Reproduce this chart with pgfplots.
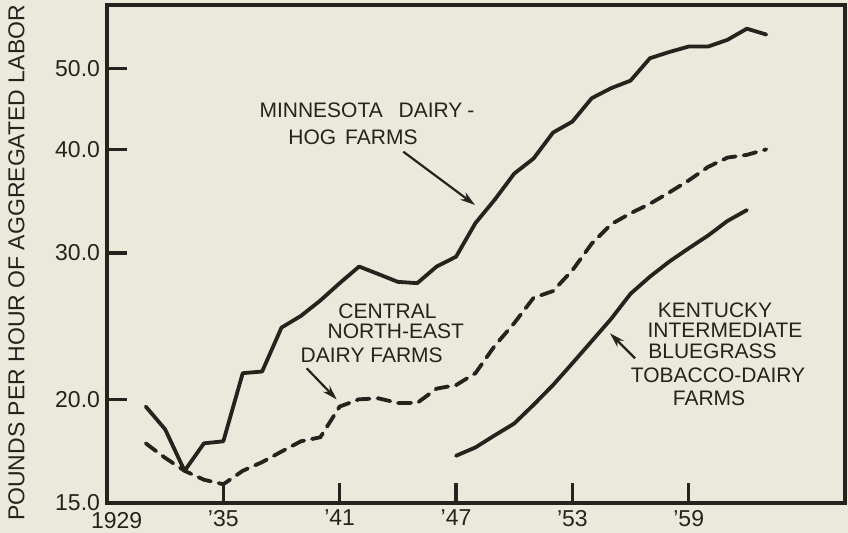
\documentclass[border=0pt]{standalone}
\usepackage{fontspec}
\setmainfont{Liberation Sans}
\usepackage{pgfplots}
\pgfplotsset{compat=1.18}
\usetikzlibrary{arrows.meta}
\definecolor{bgcol}{RGB}{233,234,219}
\definecolor{inkcol}{RGB}{38,34,30}

\begin{document}
\begin{tikzpicture}
\fill[bgcol] (-53.5bp,-15bp) rectangle (370.5bp,251.5bp);
\begin{axis}[
  scale only axis, width=369bp, height=249bp,
  at={(0,0)}, anchor=south west,
  xmin=1929, xmax=1967.06,
  ymode=log, ymin=15, ymax=59.7,
  axis line style={line width=1.6bp, inkcol},
  tick align=inside,
  major tick length=10bp,
  every tick/.style={line width=1.6bp, inkcol},
  xtick pos=bottom, ytick pos=left,
  minor tick num=0, yminorticks=false, xminorticks=false,
  xtick={1929,1935,1941,1947,1953,1959},
  xticklabels={,'35,'41,'47,'53,'59},
  ytick={15,20,30,40,50},
  yticklabels={15.0,20.0,30.0,40.0,50.0},
  ticklabel style={font=\fontsize{11.5bp}{13bp}\selectfont, text=inkcol},
  clip=false,
]
% Minnesota dairy-hog farms
\addplot[inkcol, line width=1.9bp, line join=round, line cap=round] coordinates {
(1931,19.6) (1932,18.4) (1933,16.4) (1934,17.7) (1935,17.8) (1936,21.5)
(1937,21.6) (1938,24.4) (1939,25.2) (1940,26.3) (1941,27.6) (1942,28.9)
(1943,28.3) (1944,27.7) (1945,27.6) (1946,28.9) (1947,29.7) (1948,32.6)
(1949,34.8) (1950,37.4) (1951,39.0) (1952,41.9) (1953,43.2) (1954,46.1)
(1955,47.4) (1956,48.4) (1957,51.5) (1958,52.4) (1959,53.2) (1960,53.2)
(1961,54.2) (1962,55.9) (1963,55.0)
};
% Central North-East dairy farms
\addplot[inkcol, line width=1.9bp, line cap=round, dash pattern=on 6.5bp off 4bp] coordinates {
(1931,17.7) (1932,17.0) (1933,16.4) (1934,16.0) (1935,15.8) (1936,16.4)
(1937,16.8) (1938,17.3) (1939,17.8) (1940,18.0) (1941,19.6) (1942,20.0)
(1943,20.05) (1944,19.8) (1945,19.8) (1946,20.6) (1947,20.8) (1948,21.5)
(1949,23.2) (1950,24.7) (1951,26.5) (1952,27.0) (1953,28.6) (1954,30.8)
(1955,32.5) (1956,33.5) (1957,34.4) (1958,35.5) (1959,36.7) (1960,38.1)
(1961,39.1) (1962,39.4) (1963,40.0)
};
% Kentucky intermediate bluegrass tobacco-dairy farms
\addplot[inkcol, line width=1.9bp, line join=round, line cap=round] coordinates {
(1947,17.1) (1948,17.5) (1949,18.1) (1950,18.7) (1951,19.7) (1952,20.8)
(1953,22.1) (1954,23.5) (1955,25.0) (1956,26.8) (1957,28.1) (1958,29.3)
(1959,30.4) (1960,31.5) (1961,32.8) (1962,33.8)
};
\end{axis}
\begin{scope}[every node/.style={text=inkcol, font=\fontsize{10.5bp}{12bp}\selectfont, inner sep=0pt}]
\node at (4.85bp,-8.75bp) {\fontsize{11.5bp}{13bp}\selectfont 1929};
\node[rotate=90, font=\fontsize{11.5bp}{13bp}\selectfont] at (-45.3bp,120bp) {POUNDS PER HOUR OF AGGREGATED LABOR};
\node at (130bp,196.5bp) {MINNESOTA\hspace{5bp} DAIRY\hspace{2.5bp}-};
\node at (123bp,183bp) {HOG\hspace{1.5bp} FARMS};
\node at (140.25bp,95.65bp) {CENTRAL};
\node at (144.4bp,85.65bp) {NORTH-EAST};
\node at (132.35bp,74bp) {DAIRY FARMS};
\node at (304bp,96.5bp) {KENTUCKY};
\node at (309bp,86.5bp) {INTERMEDIATE};
\node at (302.75bp,75.65bp) {BLUEGRASS};
\node at (305.5bp,64bp) {TOBACCO-DAIRY};
\node at (301bp,52.5bp) {FARMS};
\end{scope}
\begin{scope}[inkcol, line width=1.1bp, -{Stealth[length=7.5bp,width=4.5bp]}]
\draw (148.15bp,175.65bp) -- (184bp,149bp);
\draw (99.85bp,67.35bp) -- (114.85bp,51.75bp);
\draw (264bp,72.35bp) -- (251.5bp,84.85bp);
\end{scope}
\pgfresetboundingbox
\useasboundingbox (-53.5bp,-15bp) rectangle (370.5bp,251.5bp);
\end{tikzpicture}
\end{document}
